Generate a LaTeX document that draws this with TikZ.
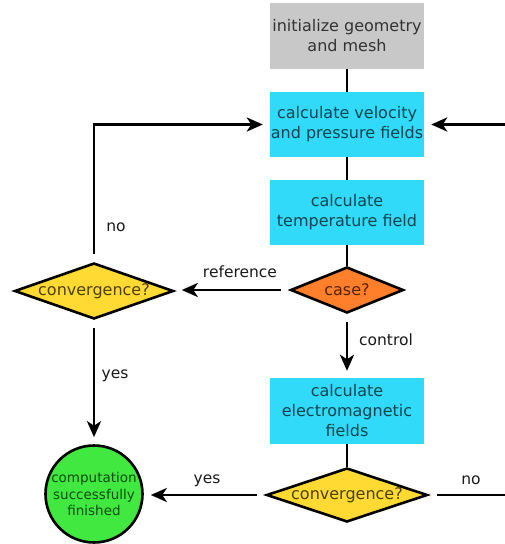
\documentclass[tikz,border=0pt]{standalone}
\usepackage{fontspec}
\setmainfont{DejaVu Sans}
\usetikzlibrary{shapes.geometric,arrows.meta}
\definecolor{boxgray}{HTML}{C8C8C8}
\definecolor{txtgray}{HTML}{333333}
\definecolor{boxcyan}{HTML}{30DAF8}
\definecolor{txtcyan}{HTML}{0D4450}
\definecolor{dorange}{HTML}{FF7F2A}
\definecolor{txtorange}{HTML}{552200}
\definecolor{dyellow}{HTML}{FFDA33}
\definecolor{txtyellow}{HTML}{4D4000}
\definecolor{dgreen}{HTML}{40E840}
\definecolor{txtgreen}{HTML}{0B4D0B}
\definecolor{lbltxt}{HTML}{1A1A1A}
\begin{document}
\begin{tikzpicture}[x=1pt,y=-1pt,
  procbox/.style={fill=boxcyan, text=txtcyan, minimum width=154pt, minimum height=65pt,
    inner sep=0pt, align=center, font=\fontsize{16}{20}\selectfont},
  decision/.style={diamond, draw=black, line width=2.6pt, inner sep=0pt, aspect=3,
    font=\fontsize{16}{20}\selectfont},
  lbl/.style={text=lbltxt, font=\fontsize{15.5}{18}\selectfont, inner sep=0pt},
  plain/.style={draw=black, line width=2.9pt},
  arr/.style={draw=black, line width=2.9pt, shorten <=8pt, shorten >=7pt,
    -{Stealth[length=16pt,width=14pt,inset=4.5pt]}}]
\useasboundingbox (0,0) rectangle (505,544);
\clip (0,0) rectangle (505,544);
% nodes
\node[procbox, fill=boxgray, text=txtgray, minimum height=66pt] (init) at (347,36) {initialize geometry\\and mesh};
\node[procbox] (vel) at (347,124.5) {calculate velocity\\and pressure fields};
\node[procbox] (temp) at (347,212.5) {calculate\\temperature field};
\node[decision, fill=dorange, text=txtorange, minimum width=113pt, minimum height=46pt] (case) at (347,290) {case?};
\node[decision, fill=dyellow, text=txtyellow, minimum width=159pt, minimum height=56pt] (conv1) at (94,291) {convergence?};
\node[procbox, minimum height=66pt] (em) at (347,411) {calculate\\electromagnetic\\fields};
\node[decision, fill=dyellow, text=txtyellow, minimum width=161pt, minimum height=54pt] (conv2) at (347,495) {convergence?};
\node[circle, draw=black, line width=2.6pt, fill=dgreen, text=txtgreen, minimum size=97pt,
  inner sep=0pt, align=center, font=\fontsize{13.5}{16.5}\selectfont] (done) at (94,494) {computation\\successfully\\finished};
% labels
\node[lbl] (lref) at (240,272) {reference};
\node[lbl] (lno1) at (116,227) {no};
\node[lbl] (lyes1) at (115,376) {yes};
\node[lbl] (lctrl) at (386,340) {control};
\node[lbl] (lyes2) at (207,481) {yes};
\node[lbl] (lno2) at (471,480) {no};
% connectors
\draw[plain] (init) -- (vel);
\draw[plain] (vel) -- (temp);
\draw[plain] (temp) -- (case);
\draw[plain] (em) -- (conv2);
\draw[arr] (case.west) -- (case.west -| conv1.east);
\draw[arr] (conv1.north) -- (conv1.north |- vel.west) -- (vel.west);
\draw[arr] (conv1.south) -- (done.north);
\draw[arr] (case.south) -- (em.north);
\draw[arr] (conv2.west) -- (conv2.west -| done.east);
\coordinate (loopcorner) at (540,495);
\draw[arr] (conv2.east) -- (loopcorner) |- (vel.east);
\end{tikzpicture}
\end{document}
